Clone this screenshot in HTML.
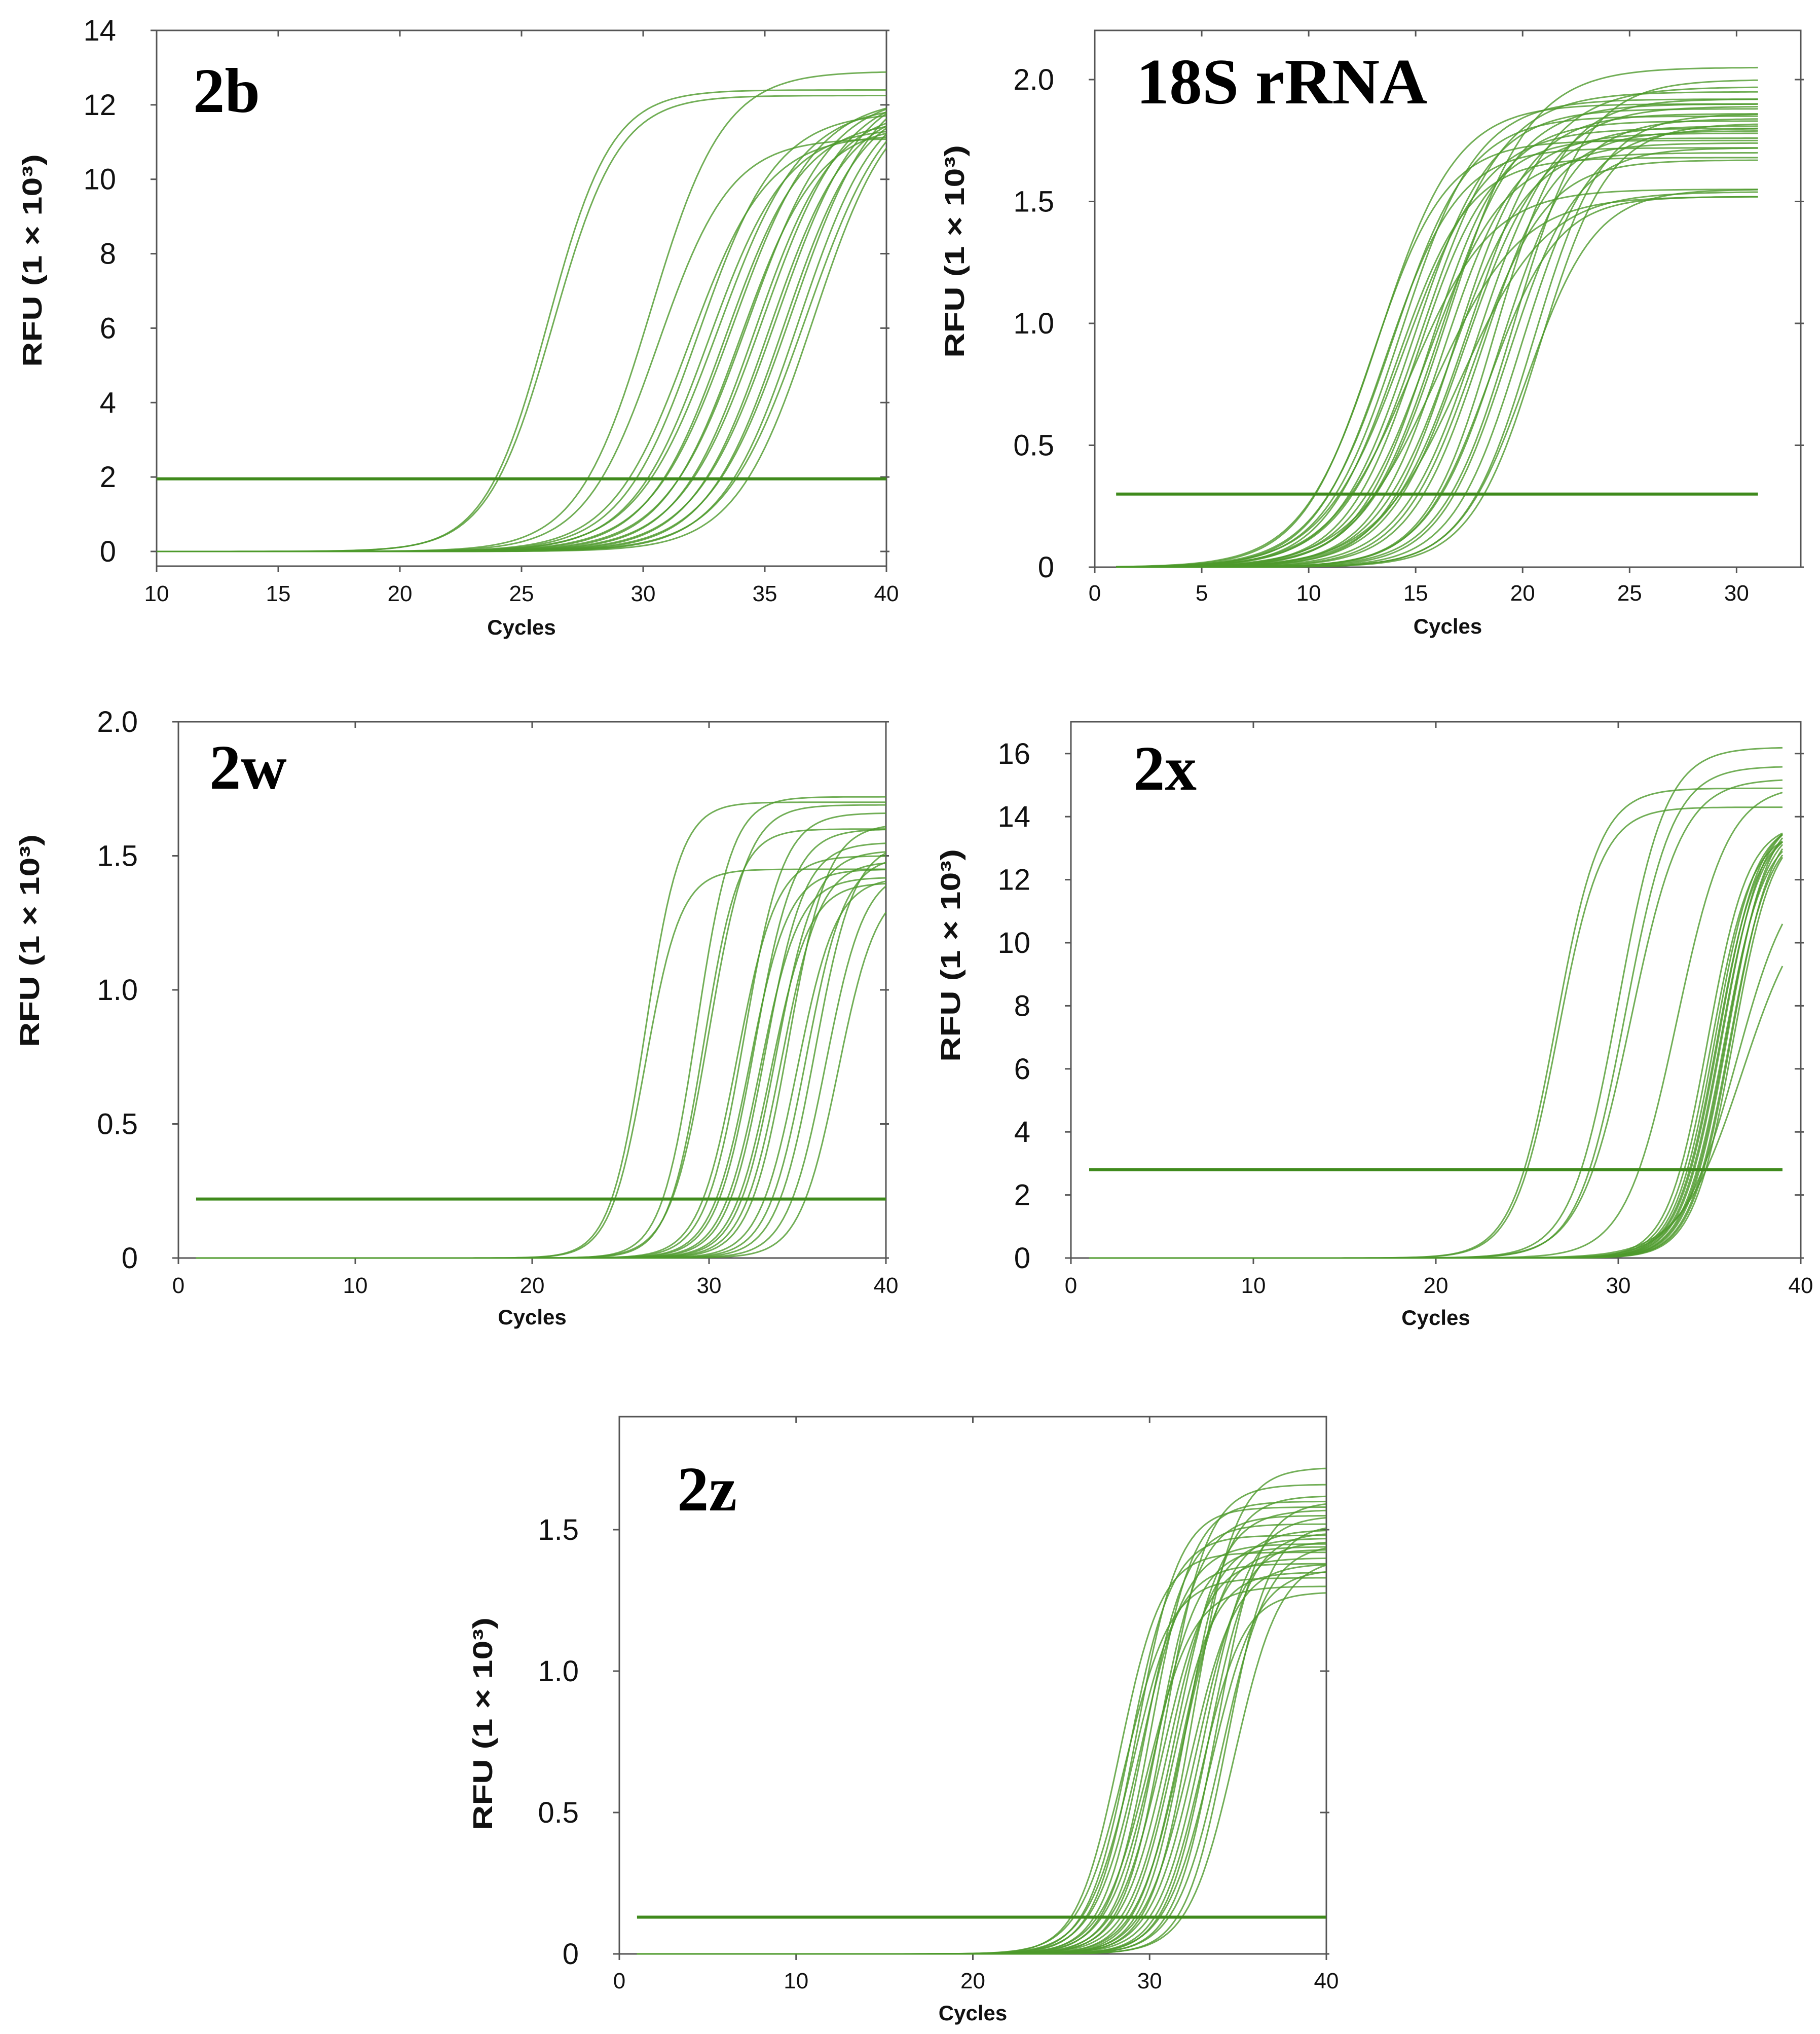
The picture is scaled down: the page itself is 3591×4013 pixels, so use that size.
<!DOCTYPE html>
<html><head><meta charset="utf-8"><style>
html,body{margin:0;padding:0;background:#fff;}
svg{display:block;}
text{font-family:"Liberation Sans",sans-serif;}
</style></head><body>
<svg id="fig" width="3591" height="4013" viewBox="0 0 3591 4013" xmlns="http://www.w3.org/2000/svg">
<rect width="3591" height="4013" fill="#fff"/>
</svg>
<script>
// ---- data: sigmoid parameters (midpoint cycle, plateau RFU, slope) ----
const b2Mid=[26.1,26.3,30.3,30.6,31.9,32.3,32.7,33.1,33.4,33.7,34.0,34.3,34.6,34.9,35.2,35.5,35.8,36.1,36.4,36.7,37.0];
const b2Plateau=[12.4,12.25,12.9,11.1,11.2,11.8,11.4,12.0,11.6,12.2,11.5,12.3,11.9,12.4,12.0,12.6,12.2,12.8,12.4,12.6,12.5];
const b2Slope=[1.3,1.35,1.5,1.5,1.6,1.6,1.6,1.7,1.6,1.7,1.6,1.7,1.6,1.7,1.6,1.7,1.6,1.7,1.6,1.7,1.6];
const b2Ticks=[0,2,4,6,8,10,12,14];
const b2XTicks=[10,15,20,25,30,35,40];
const b2Threshold=1.95;

const s18Mid=[13.0,13.3,13.6,13.9,14.1,14.3,14.5,14.7,14.9,15.1,15.3,15.5,15.7,15.9,16.1,16.3,16.5,16.7,16.9,17.1,17.3,17.5,17.7,17.9,18.1,18.4,18.7,19.0,19.3,19.6,19.9,20.2,20.5,20.8];
const s18Plateau=[1.75,1.9,1.72,1.85,1.68,1.92,1.8,1.55,1.88,1.76,1.95,1.7,1.83,1.52,1.9,1.78,2.05,1.74,1.86,1.54,1.81,1.97,1.67,1.89,1.79,1.52,1.92,1.84,1.72,2.0,1.8,1.55,1.86,1.82];
const s18Slope=[1.7,1.8,1.7,1.8,1.7,1.8,1.9,1.9,1.8,1.7,1.9,1.8,1.7,2.0,1.8,1.7,1.9,1.8,1.7,2.0,1.8,1.9,1.7,1.8,1.7,1.6,1.6,1.7,1.6,1.7,1.6,1.6,1.6,1.6];
const s18Ticks=[0,0.5,1.0,1.5,2.0];
const s18TickLabels=["0","0.5","1.0","1.5","2.0"];
const s18XTicks=[0,5,10,15,20,25,30];
const s18Threshold=0.3;

const w2Mid=[26.4,26.4,29.3,29.7,30.0,31.6,32.0,32.3,32.6,32.9,33.2,33.5,33.8,34.1,34.5,35.0,35.5,36.0,36.6,37.3];
const w2Plateau=[1.70,1.45,1.72,1.60,1.69,1.50,1.66,1.45,1.60,1.42,1.55,1.40,1.52,1.48,1.62,1.42,1.50,1.55,1.45,1.40];
const w2Slope=[1.0,1.0,1.0,1.0,1.1,1.1,1.1,1.1,1.1,1.1,1.1,1.1,1.1,1.1,1.1,1.1,1.1,1.1,1.1,1.1];
const w2Ticks=[0,0.5,1.0,1.5,2.0];
const w2TickLabels=["0","0.5","1.0","1.5","2.0"];
const w2XTicks=[0,10,20,30,40];
const w2Threshold=0.22;

const x2Mid=[26.6,26.7,30.0,30.4,30.7,33.2,34.9,35.1,35.3,35.4,35.5,35.6,35.7,35.8,35.9,36.0,36.1,36.2,36.3,36.5,36.8];
const x2Plateau=[14.9,14.3,16.2,15.6,15.2,15.0,13.8,13.6,13.9,13.7,14.0,13.8,14.1,13.6,13.9,14.2,13.7,14.0,13.8,12.6,11.8];
const x2Slope=[1.2,1.2,1.3,1.3,1.4,1.4,1.1,1.1,1.1,1.1,1.1,1.1,1.1,1.1,1.1,1.1,1.1,1.1,1.1,1.5,1.7];
const x2Ticks=[0,2,4,6,8,10,12,14,16];
const x2XTicks=[0,10,20,30,40];
const x2Threshold=2.8;

const z2Mid=[28.3,28.6,28.9,29.1,29.3,29.5,29.7,29.9,30.1,30.3,30.5,30.7,30.9,31.1,31.3,31.5,31.7,31.9,32.1,32.3,32.5,32.7,32.9,33.1,33.3,33.5,33.8,34.1,34.4,34.8];
const z2Plateau=[1.42,1.33,1.48,1.38,1.58,1.45,1.52,1.30,1.60,1.44,1.55,1.40,1.66,1.47,1.35,1.57,1.43,1.50,1.62,1.38,1.72,1.46,1.28,1.55,1.49,1.36,1.60,1.45,1.52,1.40];
const z2Slope=[1.2,1.3,1.2,1.3,1.2,1.3,1.2,1.3,1.2,1.3,1.2,1.3,1.2,1.3,1.2,1.3,1.2,1.3,1.2,1.3,1.2,1.3,1.2,1.3,1.2,1.3,1.2,1.3,1.2,1.3];
const z2Ticks=[0,0.5,1.0,1.5];
const z2TickLabels=["0","0.5","1.0","1.5"];
const z2XTicks=[0,10,20,30,40];
const z2Threshold=0.13;

const NS="http://www.w3.org/2000/svg";
const svg=document.getElementById('fig');
function mk(tag,attrs,parent){const e=document.createElementNS(NS,tag);for(const k in attrs)e.setAttribute(k,attrs[k]);(parent||svg).appendChild(e);return e;}

function panel(cfg){
  const g=mk('g',{});
  
  
  const sx=v=>cfg.L+(v-cfg.x0)/(cfg.x1-cfg.x0)*(cfg.R-cfg.L);
  const sy=v=>cfg.Y0-(v)*cfg.ppu;
  const fr=mk('rect',{x:cfg.L,y:cfg.T,width:cfg.R-cfg.L,height:cfg.B-cfg.T,fill:'none',stroke:'#555',"stroke-width":3},g);
  
  
  cfg.yt.forEach((v,i)=>{
    const y=sy(v);
    mk('line',{x1:cfg.L-12,x2:cfg.L,y1:y,y2:y,stroke:'#555',"stroke-width":3},g);
    mk('line',{x1:cfg.R-12,x2:cfg.R+6,y1:y,y2:y,stroke:'#555',"stroke-width":3},g);
    const t=mk('text',{x:cfg.L-80,y:y+20,"text-anchor":'end',"font-size":58,fill:'#111'},g);
    t.textContent=cfg.ytl?cfg.ytl[i]:String(v);
    
    
  });
  cfg.xt.forEach(v=>{
    const x=sx(v);
    mk('line',{x1:x,x2:x,y1:cfg.B,y2:cfg.B+12,stroke:'#555',"stroke-width":3},g);
    mk('line',{x1:x,x2:x,y1:cfg.T,y2:cfg.T+12,stroke:'#555',"stroke-width":3},g);
    const t=mk('text',{x:x,y:cfg.xlY+15,"text-anchor":'middle',"font-size":44,fill:'#111'},g);
    t.textContent=String(v);
    
    
  });
  const cx=mk('text',{x:(cfg.L+cfg.R)/2,y:cfg.cyY+15,"text-anchor":'middle',"font-size":42,"font-weight":'bold',fill:'#111'},g);
  cx.textContent='Cycles';
  
  
  const yl=mk('text',{x:0,y:0,"text-anchor":'middle',"font-size":54,"font-weight":'bold',fill:'#111',textLength:420,lengthAdjust:'spacingAndGlyphs',transform:`translate(${cfg.ylX+19},${cfg.ylY}) rotate(-90)`},g);
  yl.textContent='RFU  (1 × 10³)';
  
  
  const tt=mk('text',{x:cfg.tX,y:cfg.tY,style:'font-family:"Liberation Serif",serif;font-weight:bold;font-size:'+(cfg.tS||120)+'px',fill:'#000'},g);
  if(cfg.tLen){tt.setAttribute('textLength',cfg.tLen);tt.setAttribute('lengthAdjust','spacingAndGlyphs');}
  tt.textContent=cfg.title;
  
  
  for(let i=0;i<cfg.mid.length;i++){
    let d='';
    for(let x=cfg.cs;x<=cfg.ce+1e-9;x+=0.2){
      const v=cfg.pl[i]/(1+Math.exp(-(x-cfg.mid[i])/cfg.sl[i]));
      d+=(d?'L':'M')+sx(x).toFixed(1)+','+sy(v).toFixed(1);
    }
    const p=mk('path',{d:d,fill:'none',stroke:'#4e9a2c',"stroke-width":3,"stroke-opacity":0.8},g);
    
    
  }
  const th=mk('line',{x1:sx(cfg.ts),x2:sx(cfg.ce),y1:sy(cfg.th),y2:sy(cfg.th),stroke:'#3f8a1c',"stroke-width":6},g);
  
  
}

panel({name:'2b',L:309,R:1749,T:60,B:1117,x0:10,x1:40,Y0:1088,ppu:73.43,yt:b2Ticks,xt:b2XTicks,
  xlY:1171,cyY:1237,ylX:63,ylY:514,tX:381,tY:221,title:'2b',tS:125,
  mid:b2Mid,pl:b2Plateau,sl:b2Slope,cs:10,ce:40,ts:10,th:b2Threshold});
panel({name:'18s-rrna',L:2160,R:3553,T:60,B:1119,x0:0,x1:33,Y0:1119,ppu:481,yt:s18Ticks,ytl:s18TickLabels,xt:s18XTicks,
  xlY:1170,cyY:1235,ylX:1883,ylY:496,tX:2242,tY:204,title:'18S rRNA',tS:128,tLen:574,
  mid:s18Mid,pl:s18Plateau,sl:s18Slope,cs:1,ce:31,ts:1,th:s18Threshold});
panel({name:'2w',L:352,R:1748,T:1424,B:2482,x0:0,x1:40,Y0:2482,ppu:529,yt:w2Ticks,ytl:w2TickLabels,xt:w2XTicks,
  xlY:2536,cyY:2598,ylX:58,ylY:1856,tX:413,tY:1556,title:'2w',tS:125,
  mid:w2Mid,pl:w2Plateau,sl:w2Slope,cs:1,ce:40,ts:1,th:w2Threshold});
panel({name:'2x',L:2113,R:3553,T:1424,B:2482,x0:0,x1:40,Y0:2482,ppu:62.2,yt:x2Ticks,xt:x2XTicks,
  xlY:2536,cyY:2599,ylX:1875,ylY:1885,tX:2236,tY:1558,title:'2x',tS:125,
  mid:x2Mid,pl:x2Plateau,sl:x2Slope,cs:1,ce:39,ts:1,th:x2Threshold});
panel({name:'2z',L:1222,R:2617,T:2795,B:3855,x0:0,x1:40,Y0:3855,ppu:558,yt:z2Ticks,ytl:z2TickLabels,xt:z2XTicks,
  xlY:3908,cyY:3971,ylX:952,ylY:3401,tX:1336,tY:2980,title:'2z',tS:125,
  mid:z2Mid,pl:z2Plateau,sl:z2Slope,cs:1,ce:40,ts:1,th:z2Threshold});
</script>
</body></html>
